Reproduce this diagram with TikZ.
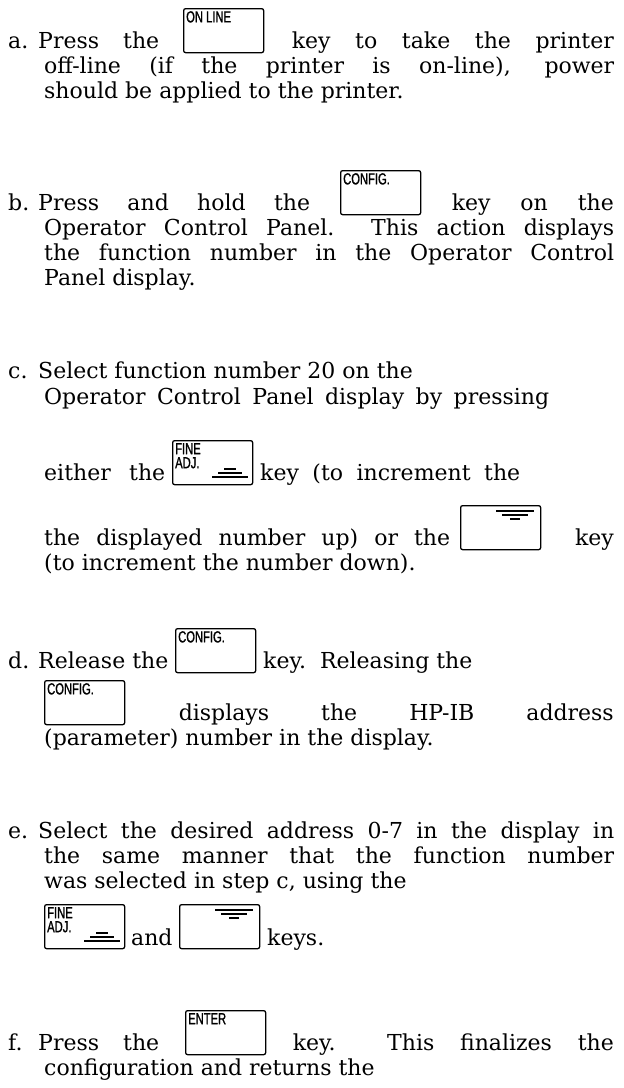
\documentclass[tikz,border=0pt]{standalone}
\usepackage{fontspec}
\setmainfont{DejaVu Serif}
\newfontfamily\keyfont[FakeStretch=0.7,FakeBold=1.2]{Liberation Sans}
\usetikzlibrary{positioning}

% stretch the spaces of a text line to a given width (pt)
\newcommand{\spread}[2]{\makebox[#1pt][s]{#2}}

\begin{document}
\begin{tikzpicture}[x=1pt,y=-1pt,
  txt/.style={anchor=base west,inner sep=0pt,font=\fontsize{22}{25}\selectfont},
  keybox/.style={draw,line width=1.3pt,rounded corners=2pt,anchor=north west,
                 minimum width=80pt,minimum height=44pt,inner sep=0pt},
  keylabel/.style={anchor=north west,inner sep=0pt,align=left,
                   font=\keyfont\fontsize{16}{14}\selectfont},
  sym/.style={line width=1.1pt}
]
  \useasboundingbox (0,0) rectangle (624,1088);

  % step a
  \node[txt] (la) at (8,48) {a.};
  \node[txt] (a1l) at (38,48) {\spread{121}{Press the}};
  \node[keybox] (kon) at (183,8) {};
  \node[keylabel] (konl) at ([shift={(3,3)}]kon.north west) {ON LINE};
  \node[txt,anchor=base east] (a1r) at (614,48) {\spread{322}{key to take the printer}};
  \node[txt] (a2) at (44,73) {\spread{570}{off-line (if the printer is on-line), power}};
  \node[txt] (a3) at (44,98) {should be applied to the printer.};

  % step b
  \node[txt] (lb) at (8,210) {b.};
  \node[txt] (b1l) at (38,210) {\spread{272}{Press and hold the}};
  \node[keybox] (kcb) at (340,170) {};
  \node[keylabel] (kcbl) at ([shift={(3,3)}]kcb.north west) {CONFIG.};
  \node[txt,anchor=base east] (b1r) at (614,210) {\spread{162}{key on the}};
  \node[txt] (b2) at (44,235) {\spread{570}{Operator Control Panel.\ \ This action displays}};
  \node[txt] (b3) at (44,260) {\spread{570}{the function number in the Operator Control}};
  \node[txt] (b4) at (44,285) {Panel display.};

  % step c
  \node[txt] (lc) at (8,378) {c.};
  \node[txt] (c1) at (38,378) {Select function number 20 on the};
  \node[txt] (c2) at (44,404) {\spread{505}{Operator Control Panel display by pressing}};
  \node[txt] (c3l) at (44,480) {\spread{121}{either the}};
  \node[keybox] (kfc) at (172,440) {};
  \node[keylabel] (kfcl) at ([shift={(3,3)}]kfc.north west) {FINE\\ADJ.};
  \node[txt] (c3r) at (260,480) {\spread{260}{key (to increment the}};
  \node[txt] (c4l) at (44,545) {\spread{406}{the displayed number up) or the}};
  \node[keybox] (kdc) at (460,505) {};
  \node[txt,anchor=base east] (c4r) at (614,545) {key};
  \node[txt] (c5) at (44,570) {(to increment the number down).};

  % step d
  \node[txt] (ld) at (8,668) {d.};
  \node[txt] (d1l) at (38,668) {Release the};
  \node[keybox] (kcd) at (175,628) {};
  \node[keylabel] (kcdl) at ([shift={(3,3)}]kcd.north west) {CONFIG.};
  \node[txt] (d1r) at (263,668) {key.\ \ Releasing the};
  \node[keybox] (kcd2) at (44,680) {};
  \node[keylabel] (kcd2l) at ([shift={(3,3)}]kcd2.north west) {CONFIG.};
  \node[txt,anchor=base east] (d2) at (614,720) {\spread{435}{displays the HP-IB address}};
  \node[txt] (d3) at (44,745) {(parameter) number in the display.};

  % step e
  \node[txt] (le) at (8,838) {e.};
  \node[txt] (e1) at (38,838) {\spread{576}{Select the desired address 0-7 in the display in}};
  \node[txt] (e2) at (44,863) {\spread{570}{the same manner that the function number}};
  \node[txt] (e3) at (44,888) {was selected in step c, using the};
  \node[keybox] (kfe) at (44,904) {};
  \node[keylabel] (kfel) at ([shift={(3,3)}]kfe.north west) {FINE\\ADJ.};
  \node[txt] (e4a) at (131,945) {and};
  \node[keybox] (kde) at (179,904) {};
  \node[txt] (e4b) at (267,945) {keys.};

  % step f
  \node[txt] (lf) at (8,1050) {f.};
  \node[txt] (f1l) at (38,1050) {\spread{121}{Press the}};
  \node[keybox] (ken) at (185,1010) {};
  \node[keylabel] (kenl) at ([shift={(3,3)}]ken.north west) {ENTER};
  \node[txt,anchor=base east] (f1r) at (614,1050) {\spread{321}{key.\ \ This finalizes the}};
  \node[txt] (f2) at (44,1075) {configuration and returns the};

  % up marks on the FINE ADJ. keys
  \foreach \k in {kfc,kfe}{
    \draw[sym] ([shift={(40,37)}]\k.north west) -- ++(36,0);
    \draw[sym] ([shift={(46,33)}]\k.north west) -- ++(24,0);
    \draw[sym] ([shift={(52,29)}]\k.north west) -- ++(12,0);
  }
  % down marks on the blank keys
  \foreach \k in {kdc,kde}{
    \draw[sym] ([shift={(36,6)}]\k.north west) -- ++(38,0);
    \draw[sym] ([shift={(42,10)}]\k.north west) -- ++(26,0);
    \draw[sym] ([shift={(50,14)}]\k.north west) -- ++(10,0);
  }
\end{tikzpicture}
\end{document}
